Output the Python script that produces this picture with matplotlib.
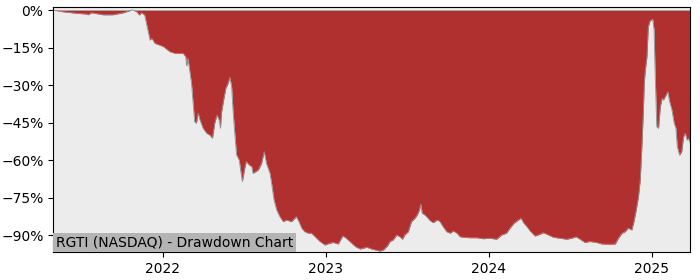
import matplotlib
matplotlib.use('Agg')
import matplotlib.pyplot as plt
import matplotlib.dates as mdates
import matplotlib.ticker as mticker
import pandas as pd

# drawdown data (percent below running high)
dates = [
    '2021-04-30', '2021-05-22', '2021-06-21', '2021-07-14', '2021-07-17', '2021-07-25',
    '2021-08-20', '2021-09-11', '2021-10-04', '2021-10-23', '2021-10-26', '2021-11-03',
    '2021-11-09', '2021-11-14', '2021-11-21', '2021-11-25', '2021-12-03', '2021-12-07',
    '2021-12-14', '2022-01-02', '2022-01-16', '2022-01-28', '2022-02-15', '2022-02-21',
    '2022-02-23', '2022-02-26', '2022-03-06', '2022-03-13', '2022-03-17', '2022-03-21',
    '2022-03-25', '2022-04-01', '2022-04-09', '2022-04-16', '2022-04-22', '2022-04-27',
    '2022-05-02', '2022-05-07', '2022-05-10', '2022-05-12', '2022-05-17', '2022-05-22',
    '2022-05-27', '2022-05-31', '2022-06-04', '2022-06-07', '2022-06-11', '2022-06-15',
    '2022-06-21', '2022-06-24', '2022-06-28', '2022-07-04', '2022-07-07', '2022-07-13',
    '2022-07-19', '2022-07-22', '2022-07-28', '2022-08-03', '2022-08-10', '2022-08-16',
    '2022-08-21', '2022-08-29', '2022-09-01', '2022-09-07', '2022-09-13', '2022-09-20',
    '2022-09-28', '2022-10-05', '2022-10-16', '2022-10-27', '2022-11-02', '2022-11-08',
    '2022-11-15', '2022-11-23', '2022-11-30', '2022-12-08', '2022-12-19', '2022-12-30',
    '2023-01-10', '2023-01-18', '2023-01-29', '2023-02-08', '2023-02-13', '2023-02-24',
    '2023-03-08', '2023-03-19', '2023-04-03', '2023-04-14', '2023-05-02', '2023-05-10',
    '2023-05-19', '2023-05-25', '2023-06-01', '2023-06-09', '2023-06-16', '2023-06-22',
    '2023-06-27', '2023-07-05', '2023-07-12', '2023-07-20', '2023-07-25', '2023-07-30',
    '2023-08-02', '2023-08-05', '2023-08-11', '2023-08-16', '2023-08-23', '2023-08-30',
    '2023-09-08', '2023-09-14', '2023-09-21', '2023-09-29', '2023-10-07', '2023-10-14',
    '2023-10-22', '2023-10-29', '2023-11-05', '2023-11-20', '2023-12-05', '2023-12-20',
    '2024-01-04', '2024-01-19', '2024-01-30', '2024-02-10', '2024-02-18', '2024-02-27',
    '2024-03-08', '2024-03-14', '2024-03-19', '2024-03-27', '2024-04-03', '2024-04-14',
    '2024-04-21', '2024-05-03', '2024-05-14', '2024-05-25', '2024-06-09', '2024-06-24',
    '2024-07-05', '2024-07-15', '2024-07-24', '2024-08-04', '2024-08-15', '2024-08-30',
    '2024-09-11', '2024-09-26', '2024-10-11', '2024-10-18', '2024-10-26', '2024-11-02',
    '2024-11-09', '2024-11-17', '2024-11-21', '2024-11-27', '2024-12-02', '2024-12-06',
    '2024-12-10', '2024-12-13', '2024-12-15', '2024-12-17', '2024-12-21', '2024-12-24',
    '2024-12-28', '2025-01-03', '2025-01-06', '2025-01-08', '2025-01-12', '2025-01-16',
    '2025-01-20', '2025-01-24', '2025-01-27', '2025-02-02', '2025-02-06', '2025-02-09',
    '2025-02-15', '2025-02-20', '2025-02-24', '2025-02-27', '2025-03-04', '2025-03-09',
    '2025-03-13', '2025-03-17', '2025-03-21', '2025-03-24', '2025-03-28',
]
drawdown = [
    0.0, -0.7, -1.3, -1.6, -1.9, -1.1,
    -1.9, -1.9, -1.1, 0.0, 0.0, -0.7,
    -2.0, -1.1, -2.0, -5.3, -12.0, -11.3,
    -13.3, -14.6, -16.6, -17.3, -17.3, -18.6,
    -22.3, -19.3, -29.2, -44.6, -45.2, -41.2,
    -43.9, -47.2, -49.2, -49.9, -51.2, -45.2,
    -41.9, -43.9, -47.2, -41.2, -35.9, -31.2,
    -29.2, -26.9, -30.6, -39.9, -49.2, -57.8,
    -59.9, -63.8, -68.5, -62.5, -60.5, -61.8,
    -62.5, -65.2, -64.5, -63.8, -61.2, -56.5,
    -61.2, -65.2, -68.5, -75.8, -79.8, -82.5,
    -84.5, -83.8, -84.5, -82.5, -84.5, -87.1,
    -88.5, -89.1, -89.1, -90.5, -92.4, -93.8,
    -93.1, -92.8, -93.4, -90.2, -90.7, -92.4,
    -94.4, -95.4, -94.7, -95.4, -96.2, -95.8,
    -94.2, -92.4, -91.8, -89.8, -90.5, -91.5,
    -89.8, -88.5, -84.5, -83.1, -81.8, -79.8,
    -77.5, -81.1, -81.8, -82.7, -84.1, -84.9,
    -83.8, -84.5, -86.5, -88.5, -89.1, -88.2,
    -89.1, -90.5, -90.7, -90.9, -90.9, -91.3,
    -91.1, -91.5, -89.8, -89.1, -87.1, -85.1,
    -83.8, -83.1, -84.9, -86.5, -88.2, -90.2,
    -89.8, -88.9, -89.8, -90.7, -91.1, -91.5,
    -91.1, -90.5, -91.5, -92.8, -92.4, -92.8,
    -93.4, -93.5, -93.4, -91.1, -89.1, -88.5,
    -87.1, -87.8, -85.1, -79.8, -74.5, -67.8,
    -53.2, -39.9, -29.2, -24.6, -18.6, -6.7,
    -4.3, -3.7, -8.0, -22.6, -46.6, -47.2,
    -38.6, -35.2, -35.9, -33.9, -32.6, -35.9,
    -39.9, -45.2, -47.2, -54.5, -57.9, -56.5,
    -50.6, -49.2, -51.9, -51.2, -53.2,
]
title = 'RGTI (NASDAQ) - Drawdown Chart'
yticks = [0, -15, -30, -45, -60, -75, -90]

x = pd.to_datetime(dates)

fig = plt.figure(figsize=(7, 2.8), dpi=100)
ax = fig.add_axes([0.076, 0.099, 0.91, 0.875])
ax.set_facecolor('#ececec')

ax.fill_between(x, drawdown, 0, color='#b03030', linewidth=0)
ax.plot(x, drawdown, color='#909090', linewidth=0.6)

ax.set_xlim(pd.Timestamp('2021-04-30'), pd.Timestamp('2025-03-28'))
ax.set_ylim(-96.7, 1.1)
ax.set_yticks(yticks)
ax.yaxis.set_major_formatter(mticker.FuncFormatter(lambda v, p: f'{v:.0f}%'.replace('-', '\u2212')))
ax.xaxis.set_major_locator(mdates.YearLocator())
ax.xaxis.set_major_formatter(mdates.DateFormatter('%Y'))
ax.tick_params(labelsize=10)

ax.text(0.004, 0.012, title, transform=ax.transAxes, fontsize=10,
        ha='left', va='bottom',
        bbox=dict(facecolor='#b4b4b4', edgecolor='none', pad=2))

plt.savefig('out.png', dpi=100, facecolor='white')
